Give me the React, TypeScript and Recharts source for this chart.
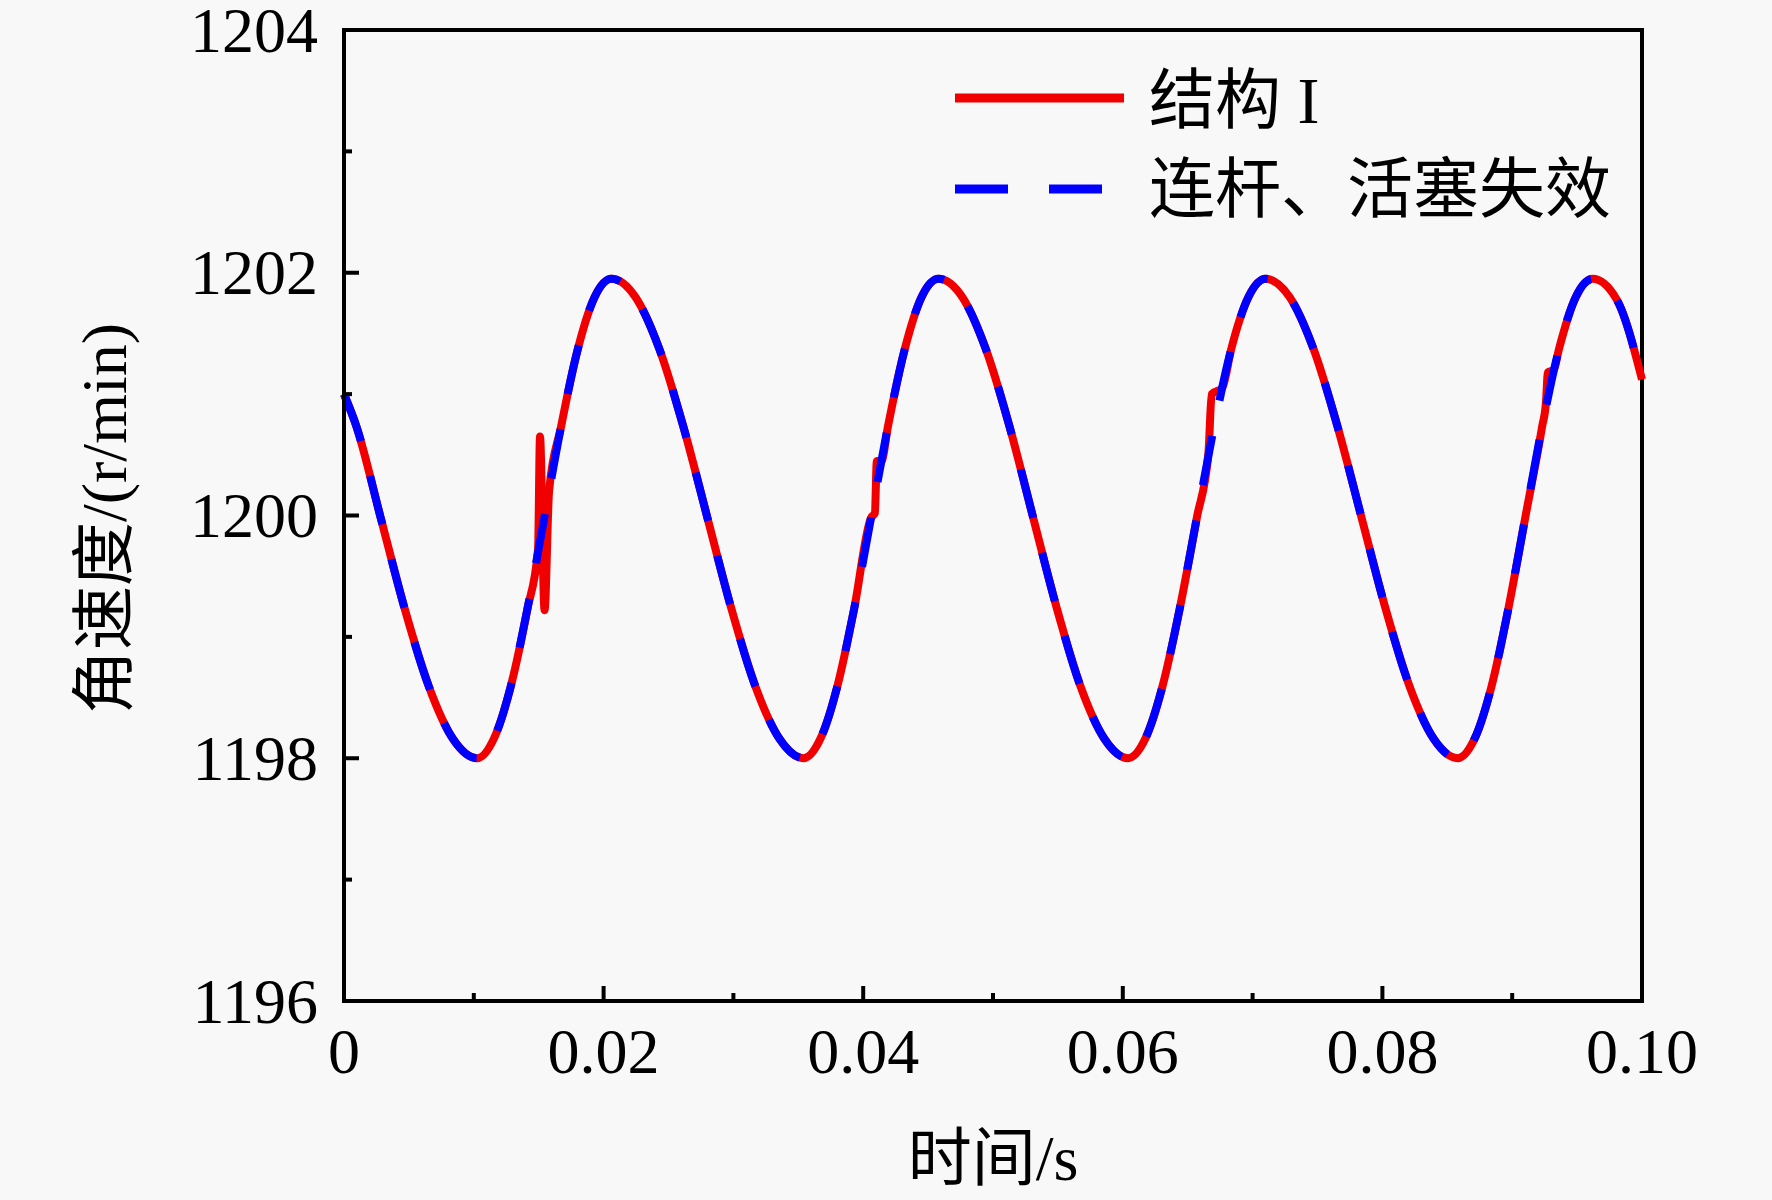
import React from 'react';
import { LineChart, Line, XAxis, YAxis, Legend, ReferenceArea } from 'recharts';

const seriesNames = ['结构 I', '连杆、活塞失效'];
const seriesColors = ['#f00000', '#0000ff'];

// time (s) and angular speed (r/min)
const baseTime = [
  0, 0.00097, 0.00283, 0.00468, 0.00654, 0.00839, 0.01025,
  0.01154, 0.01284, 0.01413, 0.01543, 0.01672, 0.01801, 0.01931, 0.0206,
  0.02245, 0.0243, 0.02615, 0.028, 0.02985, 0.0317, 0.03355, 0.0354,
  0.0367, 0.038, 0.0393, 0.0406, 0.0419, 0.0432, 0.0445, 0.0458,
  0.04763, 0.04945, 0.05128, 0.0531, 0.05493, 0.05675, 0.05858, 0.0604,
  0.06173, 0.06305, 0.06438, 0.0657, 0.06703, 0.06835, 0.06968, 0.071,
  0.07285, 0.0747, 0.07655, 0.0784, 0.08025, 0.0821, 0.08395, 0.0858,
  0.0871, 0.0884, 0.0897, 0.091, 0.0923, 0.0936, 0.0949, 0.0962,
  0.09805, 0.1,
];
const baseSpeed = [
  1201.0, 1200.73, 1199.98, 1199.23, 1198.59, 1198.16, 1198.0,
  1198.16, 1198.59, 1199.23, 1199.98, 1200.73, 1201.37, 1201.8, 1201.95,
  1201.8, 1201.37, 1200.73, 1199.98, 1199.23, 1198.59, 1198.16, 1198.0,
  1198.16, 1198.59, 1199.23, 1199.98, 1200.73, 1201.37, 1201.8, 1201.95,
  1201.8, 1201.37, 1200.73, 1199.98, 1199.23, 1198.59, 1198.16, 1198.0,
  1198.16, 1198.59, 1199.23, 1199.98, 1200.73, 1201.37, 1201.8, 1201.95,
  1201.8, 1201.37, 1200.73, 1199.98, 1199.23, 1198.59, 1198.16, 1198.0,
  1198.16, 1198.59, 1199.23, 1199.98, 1200.73, 1201.37, 1201.8, 1201.95,
  1201.78, 1201.12,
];

// short disturbances visible only on the red curve
const glitchTime = [
  [0.01495, 0.0151, 0.01545, 0.0158],
  [0.0406, 0.0409, 0.04105, 0.0414],
  [0.0666, 0.06685, 0.06765],
  [0.0926, 0.09275, 0.0932],
];
const glitchSpeed = [
  [1199.72, 1200.65, 1199.22, 1200.2],
  [1199.98, 1200.02, 1200.45, 1200.45],
  [1200.52, 1201.0, 1201.05],
  [1200.93, 1201.18, 1201.2],
];

const xMajorTicks = [0, 0.02, 0.04, 0.06, 0.08, 0.1];
const xTickLabels = ['0', '0.02', '0.04', '0.06', '0.08', '0.10'];
const xMinorTicks = [0.01, 0.03, 0.05, 0.07, 0.09];
const yMajorTicks = [1196, 1198, 1200, 1202, 1204];
const yTickLabels = ['1196', '1198', '1200', '1202', '1204'];
const yMinorTicks = [1197, 1199, 1201, 1203];
const xDomain = [0, 0.1];
const yDomain = [1196, 1204];
const xTitle = '时间/s';
const yTitle = '角速度/(r/min)';

const FONT = "'Liberation Serif', 'Times New Roman', 'Noto Sans CJK SC', serif";
const FS = 64;

const blueData = baseTime.map((t, i) => ({ t, v: baseSpeed[i] }));
const redData = (() => {
  const pts = baseTime
    .map((t, i) => ({ t, v: baseSpeed[i] }))
    .filter((p) => !glitchTime.some((g) => p.t >= g[0] && p.t <= g[g.length - 1]));
  glitchTime.forEach((g, gi) => g.forEach((t, k) => pts.push({ t, v: glitchSpeed[gi][k] })));
  pts.sort((a, b) => a.t - b.t);
  return pts;
})();

const YTick = (props: any) => {
  const { x, y, payload } = props;
  const idx = yMajorTicks.indexOf(payload.value);
  const major = idx >= 0;
  return (
    <g>
      <line x1={x} y1={y} x2={x + (major ? 15 : 8)} y2={y} stroke="#000" strokeWidth={4} />
      {major && (
        <text x={x - 26} y={y} textAnchor="end" dominantBaseline="central" fontFamily={FONT} fontSize={FS} fill="#000">
          {yTickLabels[idx]}
        </text>
      )}
    </g>
  );
};

const XTick = (props: any) => {
  const { x, y, payload } = props;
  const idx = xMajorTicks.indexOf(payload.value);
  const major = idx >= 0;
  return (
    <g>
      <line x1={x} y1={y} x2={x} y2={y - (major ? 15 : 8)} stroke="#000" strokeWidth={4} />
      {major && (
        <text x={x} y={y + 72} textAnchor="middle" fontFamily={FONT} fontSize={FS} fill="#000">
          {xTickLabels[idx]}
        </text>
      )}
    </g>
  );
};

const LegendBox = () => (
  <svg width={720} height={230} style={{ display: 'block', overflow: 'visible' }}>
    <line x1={15} y1={58} x2={184} y2={58} stroke={seriesColors[0]} strokeWidth={9} />
    <text x={209} y={60} dominantBaseline="central" fontFamily={FONT} fontSize={66} fill="#000">
      {seriesNames[0]}
    </text>
    <line x1={15} y1={149} x2={184} y2={149} stroke={seriesColors[1]} strokeWidth={9} strokeDasharray="53 41" />
    <text x={209} y={149} dominantBaseline="central" fontFamily={FONT} fontSize={66} fill="#000">
      {seriesNames[1]}
    </text>
  </svg>
);

export default function App() {
  const allX = [...xMajorTicks, ...xMinorTicks].sort((a, b) => a - b);
  const allY = [...yMajorTicks, ...yMinorTicks].sort((a, b) => a - b);
  return (
    <div style={{ position: 'absolute', left: 0, top: 0, width: 1772, height: 1200, background: '#f8f8f8' }}>
      <LineChart width={1772} height={1200} margin={{ top: 30, right: 130, bottom: 99, left: 244 }}>
        <XAxis
          xAxisId="b"
          dataKey="t"
          type="number"
          domain={xDomain}
          ticks={allX}
          interval={0}
          height={100}
          tickSize={0}
          tickMargin={0}
          tickLine={false}
          axisLine={{ stroke: '#000', strokeWidth: 4 }}
          tick={<XTick />}
          label={(p: any) => {
            const vb = p.viewBox || {};
            return (
              <text x={vb.x + vb.width / 2} y={1158} textAnchor="middle" dominantBaseline="central" fontFamily={FONT} fontSize={FS} fill="#000">
                {xTitle}
              </text>
            );
          }}
        />
        <YAxis
          yAxisId="l"
          type="number"
          domain={yDomain}
          ticks={allY}
          interval={0}
          width={100}
          tickSize={0}
          tickMargin={0}
          tickLine={false}
          axisLine={{ stroke: '#000', strokeWidth: 4 }}
          tick={<YTick />}
          label={(p: any) => {
            const vb = p.viewBox || {};
            const cy = vb.y + vb.height / 2 + 3;
            const cx = 104;
            return (
              <text x={cx} y={cy} transform={`rotate(-90, ${cx}, ${cy})`} textAnchor="middle" dominantBaseline="central" fontFamily={FONT} fontSize={FS} fill="#000">
                {yTitle}
              </text>
            );
          }}
        />
        <ReferenceArea
          xAxisId="b"
          yAxisId="l"
          x1={xDomain[0]}
          x2={xDomain[1]}
          y1={yDomain[0]}
          y2={yDomain[1]}
          fill="none"
          fillOpacity={0}
          stroke="#000"
          strokeWidth={4}
          strokeOpacity={1}
          ifOverflow="visible"
        />
        <Legend
          layout="vertical"
          align="center"
          verticalAlign="middle"
          wrapperStyle={{ left: 940, top: 40, width: 720, height: 230 }}
          content={() => <LegendBox />}
        />
        <Line
          xAxisId="b"
          yAxisId="l"
          data={redData}
          dataKey="v"
          name={seriesNames[0]}
          type="monotone"
          stroke={seriesColors[0]}
          strokeWidth={8}
          strokeLinejoin="round"
          dot={false}
          activeDot={false}
          isAnimationActive={false}
        />
        <Line
          xAxisId="b"
          yAxisId="l"
          data={blueData}
          dataKey="v"
          name={seriesNames[1]}
          type="monotone"
          stroke={seriesColors[1]}
          strokeWidth={8}
          strokeDasharray="50 36"
          dot={false}
          activeDot={false}
          isAnimationActive={false}
        />
      </LineChart>
    </div>
  );
}
